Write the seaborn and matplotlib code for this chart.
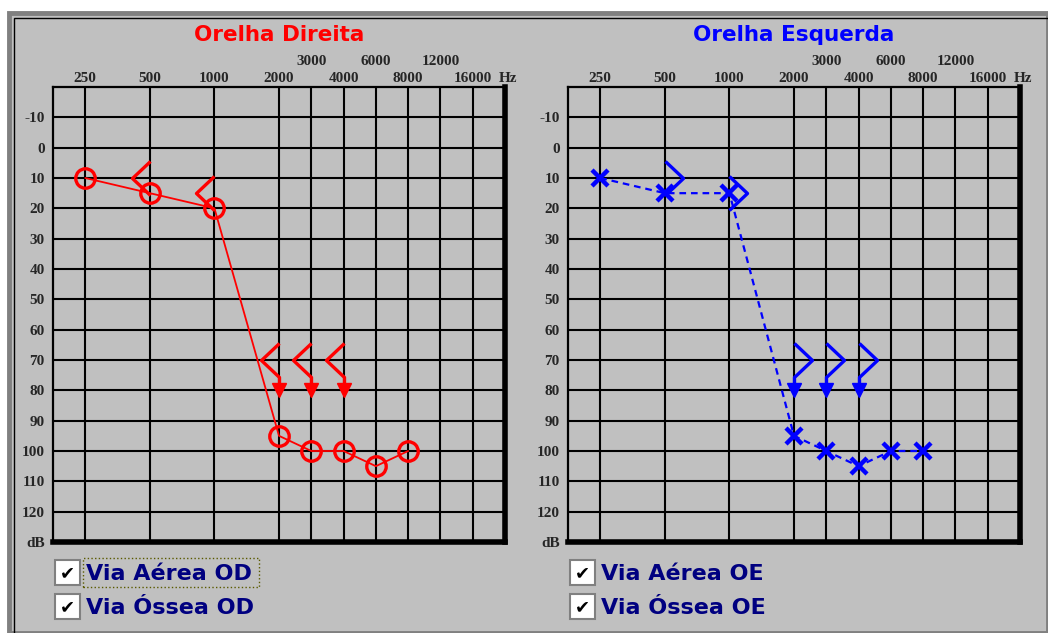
import matplotlib
matplotlib.use('Agg')
import matplotlib.pyplot as plt
from matplotlib.path import Path
from matplotlib.patches import Rectangle
import numpy as np
import seaborn as sns

# --- dados do audiograma ---
freq_labels = [250, 500, 1000, 2000, 3000, 4000, 6000, 8000, 12000, 16000]
freq_upper = [3000, 6000, 12000]          # frequencias escritas na linha de cima
db_ticks = [-10, 0, 10, 20, 30, 40, 50, 60, 70, 80, 90, 100, 110, 120]

od_air_freq = [250, 500, 1000, 2000, 3000, 4000, 6000, 8000]
od_air_db = [10, 15, 20, 95, 100, 100, 105, 100]
od_bone_freq = [500, 1000, 2000, 3000, 4000]
od_bone_db = [10, 15, 70, 70, 70]
od_bone_nr = [False, False, True, True, True]   # sem resposta (seta)

oe_air_freq = [250, 500, 1000, 2000, 3000, 4000, 6000, 8000]
oe_air_db = [10, 15, 15, 95, 100, 105, 100, 100]
oe_bone_freq = [500, 1000, 2000, 3000, 4000]
oe_bone_db = [10, 15, 70, 70, 70]
oe_bone_nr = [False, False, True, True, True]

W, H = 1048, 633
GRAY = '#C0C0C0'
PX = 0.72  # pixels -> pontos

# escala do eixo x: meio-oitava por unidade acima de 2000 Hz
xpos = dict(zip(freq_labels, [0, 2, 4, 6, 7, 8, 9, 10, 11, 12]))


def fx(x):
    return x / W


def fy(y):
    return 1 - y / H


def bone_marker(side, no_resp):
    s = -1 if side == 'left' else 1
    verts = [(0, 17), (s * 18, 0), (0, -17)]
    if no_resp:
        verts.append((0, -26))
    verts = np.array(verts, dtype=float)
    size = 2 * np.abs(verts).max() * PX
    return Path(verts), size


sns.set_style('white')
fig = plt.figure(figsize=(W / 100, H / 100), dpi=100)
fig.patch.set_facecolor('white')

# moldura cinza estilo janela
fig.add_artist(Rectangle((fx(9), fy(633)), (W - 9) / W, (633 - 13) / H,
                         transform=fig.transFigure, fc=GRAY, ec='#808080', lw=3.5, zorder=-10))
fig.add_artist(Rectangle((fx(14), fy(640)), (W) / W, (640 - 18) / H,
                         transform=fig.transFigure, fc='none', ec='black', lw=1.0, zorder=-9))

serif = dict(family='Liberation Serif', fontweight='bold', fontsize=11)


def draw_ear(x0, title, color, air_f, air_db, air_marker, air_ls,
             bone_f, bone_db, bone_nr, side, labels, focus):
    x1 = x0 + 452
    ax = fig.add_axes([fx(x0), fy(542), (x1 - x0) / W, (542 - 87) / H])
    ax.set_facecolor(GRAY)
    ax.set_xlim(-1, 13)
    ax.set_ylim(130, -20)

    ax.set_xticks([xpos[f] for f in freq_labels])
    ax.set_xticklabels([])
    ax.set_yticks(db_ticks + [130])
    ax.set_yticklabels([str(v) for v in db_ticks] + ['dB'], **serif)
    ax.tick_params(length=0, pad=6)
    ax.grid(True, color='black', lw=1.5)
    ax.set_axisbelow(True)
    for sp in ['left', 'top']:
        ax.spines[sp].set_linewidth(1.6)
        ax.spines[sp].set_color('black')
    for sp in ['right', 'bottom']:
        ax.spines[sp].set_linewidth(4)
        ax.spines[sp].set_color('black')

    # rótulos das frequências
    for f in freq_labels:
        y = 1.018 if f not in freq_upper else 1.055
        ax.text(xpos[f], y, str(f), transform=ax.get_xaxis_transform(),
                ha='center', va='center', **serif)
    ax.text(13.1, 1.018, 'Hz', transform=ax.get_xaxis_transform(),
            ha='center', va='center', **serif)

    # via aérea
    if air_marker == 'o':
        mk = dict(marker='o', markersize=14, mfc='none', mec=color, mew=2.4)
        lw = 1.3
    else:
        mk = dict(marker='x', markersize=12, mec=color, mew=3.2)
        lw = 1.6
    sns.lineplot(x=[xpos[f] for f in air_f], y=air_db, ax=ax, color=color,
                 lw=lw, linestyle=air_ls, zorder=4, **mk)

    # via óssea
    for f, d, nr in zip(bone_f, bone_db, bone_nr):
        path, size = bone_marker(side, nr)
        ax.plot(xpos[f], d, marker=path, markersize=size, mfc='none',
                mec=color, mew=2.4, linestyle='', zorder=5)
        if nr:
            ax.plot(xpos[f], d + 10, marker='v', markersize=14 * PX,
                    color=color, mec=color, linestyle='', zorder=5)

    fig.text(fx((x0 + x1) / 2), fy(35), title, color=color, ha='center',
             va='center', fontsize=15.5, fontweight='bold')

    # caixas de seleção
    for i, lab in enumerate(labels):
        yc = 573 + i * 34
        bx = x0 + 2
        fig.add_artist(Rectangle((fx(bx), fy(yc + 12)), 25 / W, 25 / H,
                                 transform=fig.transFigure, fc='white',
                                 ec='#808080', lw=1.5))
        fig.text(fx(bx + 12.5), fy(yc), '\u2714', ha='center', va='center',
                 fontsize=13, color='black')
        fig.text(fx(bx + 31), fy(yc + 1), lab, ha='left', va='center',
                 color='#000080', fontsize=16, fontweight='bold')
        if focus and i == 0:
            fig.add_artist(Rectangle((fx(bx + 28), fy(yc + 14)), 176 / W, 29 / H,
                                     transform=fig.transFigure, fc='none',
                                     ec='#5a5a00', lw=1, ls=':'))
    return ax


draw_ear(53, 'Orelha Direita', '#FF0000', od_air_freq, od_air_db, 'o', '-',
         od_bone_freq, od_bone_db, od_bone_nr, 'left',
         ['Via Aérea OD', 'Via Óssea OD'], True)
draw_ear(568, 'Orelha Esquerda', '#0000FF', oe_air_freq, oe_air_db, 'x', (0, (3, 2.2)),
         oe_bone_freq, oe_bone_db, oe_bone_nr, 'right',
         ['Via Aérea OE', 'Via Óssea OE'], False)

fig.savefig('out.png', dpi=100)
